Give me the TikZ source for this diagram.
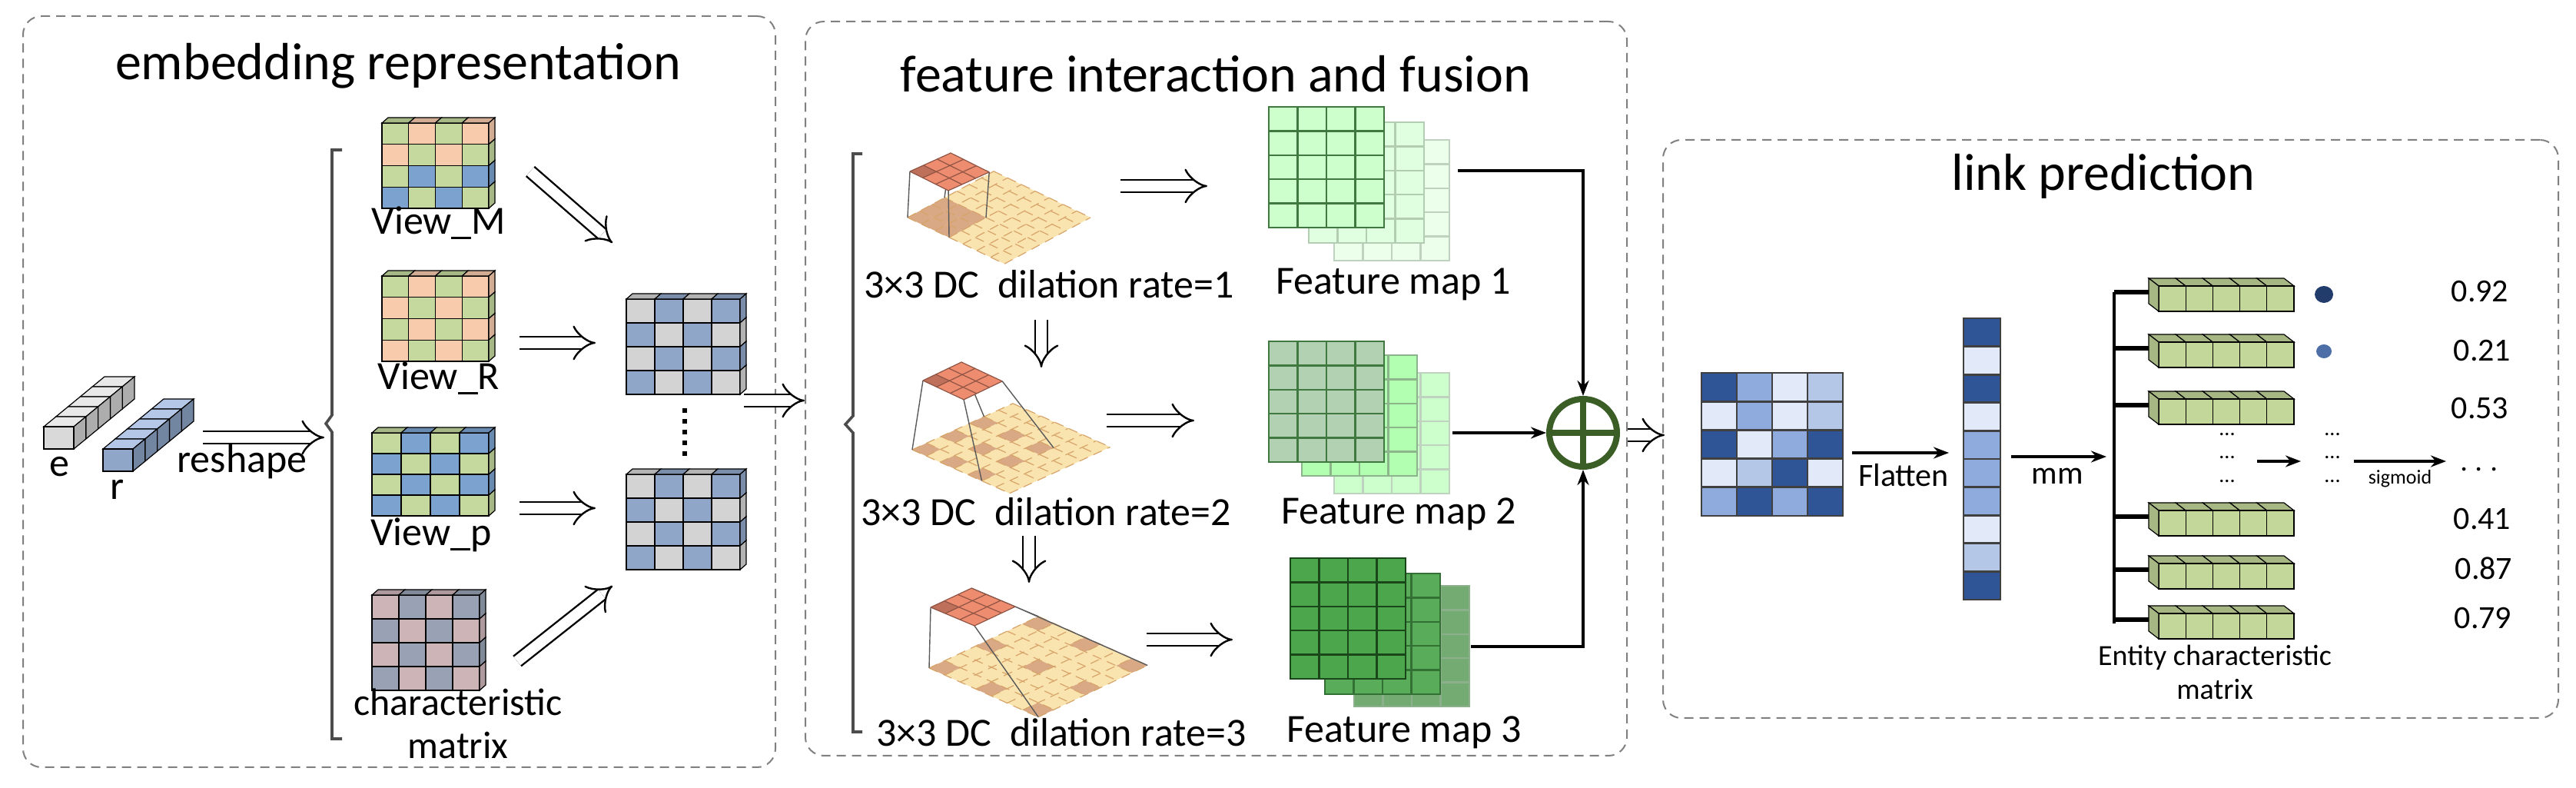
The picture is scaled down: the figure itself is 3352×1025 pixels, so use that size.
\documentclass[tikz,border=0pt]{standalone}
\usepackage{fontspec}
\setmainfont{Carlito}
\usetikzlibrary{calc,arrows.meta,positioning,shapes.geometric}
\definecolor{cG}{HTML}{C5D99F}
\definecolor{cO}{HTML}{F8CBAD}
\definecolor{cB}{HTML}{7CA3D0}
\definecolor{cY}{HTML}{D3D3D3}
\definecolor{cS}{HTML}{8FA6C9}
\definecolor{cP}{HTML}{CDB4B7}
\definecolor{cQ}{HTML}{98A2B4}
\definecolor{cD}{HTML}{2F5597}
\definecolor{cM}{HTML}{8FAADC}
\definecolor{cL}{HTML}{E2E9F8}
\definecolor{cK}{HTML}{B4C7E7}
\definecolor{cTan}{HTML}{F9E3AE}
\definecolor{cHit}{HTML}{D9A985}
\definecolor{cGrid}{HTML}{D7A46A}
\definecolor{cKer}{HTML}{EE8C70}
\definecolor{cSum}{HTML}{3B5E27}
\definecolor{cEnt}{HTML}{C4D79B}
\tikzset{
  frame/.style={draw=gray, dashed, dash pattern=on 3pt off 2pt, line width=0.5pt, rounded corners=6pt},
  title/.style={font=\fontsize{17}{19}\selectfont},
  lab/.style={font=\fontsize{13}{15}\selectfont, inner sep=0pt},
  small/.style={font=\fontsize{10.5}{12}\selectfont, inner sep=0pt},
  hollow/.style={double=white, double distance=3.4pt, line width=0.6pt, -{Implies}},
  flow/.style={line width=1.1pt, -{Stealth[length=5pt]}},
  cell/.style={draw=black, line width=0.3pt}
}
% 4x4 matrix with thin 3D top and right faces
\newcommand{\viewmat}[5]{%
  \begin{scope}[shift={(#1,#2)}]
  \foreach \row [count=\j from 0] in {#5}{
    \foreach \c [count=\i from 0] in \row{
      \filldraw[cell, fill=c\c] (\i*#3,\j*#4) rectangle ++(#3,#4);
      \ifnum\j=0 \filldraw[cell, fill=c\c!85!black] (\i*#3,0) -- ++(8,-7) -- ++(#3,0) -- ++(-8,7) -- cycle;\fi
      \ifnum\i=3 \filldraw[cell, fill=c\c!85!black] (4*#3,\j*#4) -- ++(8,-7) -- ++(0,#4) -- ++(-8,7) -- cycle;\fi
    }}
  \end{scope}}
% embedding vector seen in depth
\newcommand{\vecbar}[5]{%
  \foreach \k in {4,3,2,1,0}{
    \filldraw[cell, fill=#4] ({#1+\k*15.8},{#2-\k*13}) -- ++(15.8,-13) -- ++(39,0) -- ++(-15.8,13) -- cycle;
    \filldraw[cell, fill=#5] ({#1+39+\k*15.8},{#2-\k*13}) -- ++(15.8,-13) -- ++(0,29) -- ++(-15.8,13) -- cycle;}
  \filldraw[cell, fill=#3] (#1,#2) rectangle ++(39,29);}
% dilated convolution: base #1 (with #1u, #1v), kernel #1k (with #1a, #1b), dilation #2
\newcommand{\dcconv}[2]{%
  \fill[cTan] (#1) -- ($(#1)+7*(#1u)$) -- ($(#1)+7*(#1u)+7*(#1v)$) -- ($(#1)+7*(#1v)$) -- cycle;
  \foreach \i in {0,1,2}{\foreach \j in {0,1,2}{
    \pgfmathtruncatemacro\ci{\i*#2}\pgfmathtruncatemacro\cj{\j*#2}
    \pgfmathtruncatemacro\ck{\ci+1}\pgfmathtruncatemacro\cl{\cj+1}
    \fill[cHit] ($(#1)+\ci*(#1u)+\cj*(#1v)$) -- ($(#1)+\ck*(#1u)+\cj*(#1v)$) -- ($(#1)+\ck*(#1u)+\cl*(#1v)$) -- ($(#1)+\ci*(#1u)+\cl*(#1v)$) -- cycle;}}
  \foreach \k in {0,...,7}{
    \draw[cGrid, line width=0.3pt, densely dashed] ($(#1)+\k*(#1u)$) -- ($(#1)+\k*(#1u)+7*(#1v)$);
    \draw[cGrid, line width=0.3pt, densely dashed] ($(#1)+\k*(#1v)$) -- ($(#1)+\k*(#1v)+7*(#1u)$);}
  \pgfmathtruncatemacro\ce{2*#2+1}
  \draw[gray!70!black, line width=0.35pt] (#1k) -- (#1)
    ($(#1k)+3*(#1a)$) -- ($(#1)+\ce*(#1u)$)
    ($(#1k)+3*(#1b)$) -- ($(#1)+\ce*(#1v)$)
    ($(#1k)+3*(#1a)+3*(#1b)$) -- ($(#1)+\ce*(#1u)+\ce*(#1v)$);
  \fill[cKer] (#1k) -- ($(#1k)+3*(#1a)$) -- ($(#1k)+3*(#1a)+3*(#1b)$) -- ($(#1k)+3*(#1b)$) -- cycle;
  \fill[cKer!80!black] (#1k) -- ($(#1k)+(#1a)$) -- ($(#1k)+(#1a)+(#1b)$) -- ($(#1k)+(#1b)$) -- cycle;
  \foreach \k in {0,...,3}{
    \draw[cKer!60!black, line width=0.3pt] ($(#1k)+\k*(#1a)$) -- ($(#1k)+\k*(#1a)+3*(#1b)$);
    \draw[cKer!60!black, line width=0.3pt] ($(#1k)+\k*(#1b)$) -- ($(#1k)+\k*(#1b)+3*(#1a)$);}}
% one layer of a feature map (4 x 5 cells)
\newcommand{\fmap}[4]{%
  \filldraw[fill=#3, draw=#4, line width=0.6pt] (#1,#2) rectangle ++(150,157);
  \foreach \k in {1,2,3}{\draw[#4, line width=0.6pt] ({#1+\k*37.5},#2) -- ++(0,157);}
  \foreach \k in {1,...,4}{\draw[#4, line width=0.6pt] (#1,{#2+\k*31.4}) -- ++(150,0);}}
% entity vector of 5 cells
\newcommand{\entvec}[2]{%
  \foreach \k in {0,...,4}{
    \filldraw[cell, fill=cEnt!85!black] ({#1+\k*35.2},#2) -- ++(-13,-10) -- ++(35.2,0) -- ++(13,10) -- cycle;
    \filldraw[cell, fill=cEnt] ({#1+\k*35.2},#2) rectangle ++(35.2,33);}
  \filldraw[cell, fill=cEnt!85!black] (#1,#2) -- ++(-13,-10) -- ++(0,33) -- ++(13,10) -- cycle;}

\begin{document}
\begin{tikzpicture}[x=0.25pt,y=-0.25pt]
\useasboundingbox (0,0) rectangle (3352,1025);
% frames
\node[frame, minimum width=244.75pt, minimum height=244.25pt] (box1) at (519.5,509.5) {};
\node[frame, minimum width=267.25pt, minimum height=238.75pt] (box2) at (1582.5,505.5) {};
\node[frame, minimum width=291.25pt, minimum height=188pt] (box3) at (2746.5,558) {};
\node[title] (t1) at (518,86) {embedding representation};
\node[title] (t2) at (1582,96) {feature interaction and fusion};
\node[title] (t3) at (2737,229) {link prediction};

% embedding representation
\vecbar{57}{555}{black!15}{black!9}{black!32}
\vecbar{134}{584}{cS}{cK}{cS!80!black}
\node[lab] (e) at (77,607) {e};
\node[lab] (r) at (153,637) {r};
\coordinate (rs1) at (264,569);
\coordinate (rs2) at (422,569);
\draw[hollow] (rs1) -- (rs2);
\node[lab] (reshape) at (315,601) {reshape};
\draw[line width=0.9pt, black!70] (445,195) -- (432,195) -- (432,540) -- (424,551) -- (432,562) -- (432,961) -- (445,961);
\viewmat{497}{160}{34.75}{27.75}{{G,O,G,O},{O,G,O,G},{G,B,G,B},{B,G,B,G}}
\viewmat{497}{359}{34.75}{27.75}{{G,O,G,O},{O,G,O,G},{G,O,G,O},{O,G,O,G}}
\viewmat{484}{563}{38}{27}{{G,B,G,B},{B,G,B,G},{G,B,G,B},{B,G,B,G}}
\viewmat{484}{774}{35}{31}{{P,Q,P,Q},{Q,P,Q,P},{P,Q,P,Q},{Q,P,Q,P}}
\node[lab] (vm) at (571,290) {View\_M};
\node[lab] (vr) at (571,492) {View\_R};
\node[lab] (vp) at (561,696) {View\_p};
\node[lab, align=center, font=\fontsize{12.5}{14}\selectfont] (cm) at (596,941) {characteristic\\matrix};
\viewmat{815}{389}{37}{31}{{Y,S,Y,S},{S,Y,S,Y},{Y,S,Y,S},{S,Y,S,Y}}
\viewmat{815}{617}{37}{31}{{Y,S,Y,S},{S,Y,S,Y},{Y,S,Y,S},{S,Y,S,Y}}
\draw[line width=1.5pt, dotted] (891,531) -- (891,596);
\coordinate (m1) at (690,223);   \coordinate (m2) at (797,316);
\coordinate (r1) at (676,446);   \coordinate (r2) at (775,446);
\coordinate (p1) at (676,661);   \coordinate (p2) at (775,661);
\coordinate (c1) at (673,860);   \coordinate (c2) at (797,762);
\draw[hollow] (m1) -- (m2);
\draw[hollow] (r1) -- (r2);
\draw[hollow] (p1) -- (p2);
\draw[hollow] (c1) -- (c2);
\coordinate (o1) at (968,521);   \coordinate (o2) at (1047,521);
\draw[hollow] (o1) -- (o2);

% feature interaction and fusion
\draw[line width=0.9pt, black!70] (1122,200) -- (1110,200) -- (1110,541) -- (1100,552) -- (1110,563) -- (1110,952) -- (1122,952);
\coordinate (b1) at (1181,283); \coordinate (b1u) at (18,8.6);   \coordinate (b1v) at (16,-8.6);
\coordinate (b1k) at (1184,223); \coordinate (b1a) at (16.7,8.3); \coordinate (b1b) at (17.7,-8);
\coordinate (b2) at (1187,585); \coordinate (b2u) at (18.1,8.1); \coordinate (b2v) at (18.7,-8.6);
\coordinate (b2k) at (1201,495); \coordinate (b2a) at (17.7,8.3); \coordinate (b2b) at (16.7,-8);
\coordinate (b3) at (1209,869); \coordinate (b3u) at (20.3,9.1); \coordinate (b3v) at (20.3,-9.6);
\coordinate (b3k) at (1211,790); \coordinate (b3a) at (19,8);    \coordinate (b3b) at (17.7,-8.3);
\dcconv{b1}{1}
\dcconv{b2}{2}
\dcconv{b3}{3}
\node[lab] (dc1) at (1365,370) {3×3 DC\ \ dilation rate=1};
\node[lab] (dc2) at (1361,666) {3×3 DC\ \ dilation rate=2};
\node[lab] (dc3) at (1381,953) {3×3 DC\ \ dilation rate=3};
\coordinate (d1) at (1355,416);  \coordinate (d2) at (1355,478);
\coordinate (d3) at (1339,697);  \coordinate (d4) at (1339,758);
\draw[hollow] (d1) -- (d2);
\draw[hollow] (d3) -- (d4);
\coordinate (h1) at (1458,242);  \coordinate (h2) at (1571,242);
\coordinate (h3) at (1440,547);  \coordinate (h4) at (1554,547);
\coordinate (h5) at (1492,832);  \coordinate (h6) at (1604,832);
\draw[hollow] (h1) -- (h2);
\draw[hollow] (h3) -- (h4);
\draw[hollow] (h5) -- (h6);
\fmap{1736}{182}{green!8}{green!30!black!25}
\fmap{1703}{159}{green!12}{green!35!black!30}
\fmap{1651}{139}{green!20}{green!30!black!75}
\fmap{1736}{485}{green!20}{green!30!black!25}
\fmap{1694}{462}{green!30}{green!35!black!45}
\fmap{1651}{444}{green!40!black!30!white}{green!30!black!75}
\fmap{1762}{762}{green!40!black!55}{green!30!black!45}
\fmap{1724}{746}{green!50!black!65}{green!30!black!80}
\fmap{1679}{726}{green!50!black!70}{green!20!black!90}
\node[lab] (fm1) at (1813,370) {Feature map 1};
\node[lab] (fm2) at (1820,669) {Feature map 2};
\node[lab] (fm3) at (1827,953) {Feature map 3};
\node[circle, draw=cSum, line width=2pt, minimum size=22pt, inner sep=0pt] (sum) at (2060,563) {};
\draw[cSum, line width=2pt] (sum.north) -- (sum.south) (sum.west) -- (sum.east);
\coordinate (f1) at (1897,222);
\coordinate (f2) at (1890,563);
\coordinate (f3) at (1914,841);
\draw[flow] (f1) -| (sum.north);
\draw[flow] (f2) -- (sum.west);
\draw[flow] (f3) -| (sum.south);
\coordinate (s1) at (2118,566);  \coordinate (s2) at (2166,566);
\draw[hollow] (s1) -- (s2);

% link prediction
\begin{scope}[shift={(2214,485)}]
\foreach \row [count=\j from 0] in {{D,M,L,K},{L,M,L,K},{D,L,M,D},{L,K,D,L},{M,D,M,D}}{
  \foreach \c [count=\i from 0] in \row{
    \filldraw[fill=c\c, draw=black!75, line width=0.7pt] (\i*46,\j*37.2) rectangle ++(46,37.2);}}
\end{scope}
\foreach \c [count=\j from 0] in {D,L,D,L,M,M,M,L,K,D}{
  \filldraw[fill=c\c, draw=black!75, line width=0.7pt] (2555,{414+\j*36.6}) rectangle ++(48,36.6);}
\coordinate (fl1) at (2410,589); \coordinate (fl2) at (2536,589);
\draw[flow] (fl1) -- (fl2);
\node[small] (flat) at (2477,618) {Flatten};
\coordinate (mm1) at (2617,594); \coordinate (mm2) at (2741,594);
\draw[flow] (mm1) -- (mm2);
\node[small] (mm) at (2677,619) {mm};
\draw[line width=1.1pt] (2751,380) -- (2751,811);
\foreach \y in {372,445,519,664,733,798}{
  \entvec{2809}{\y}
  \draw[line width=1.3pt] (2751,\y+8) -- (2796,\y+8);}
\node[ellipse, fill=cD!70!black, minimum width=6pt, minimum height=5.5pt, inner sep=0pt] (dot1) at (3024,383) {};
\node[ellipse, fill=cD!85!white, minimum width=5pt, minimum height=4.5pt, inner sep=0pt] (dot2) at (3024,457) {};
\node[small] (n1) at (3227,379) {0.92};
\node[small] (n2) at (3230,456) {0.21};
\node[small] (n3) at (3227,531) {0.53};
\node[small] (n4) at (3230,675) {0.41};
\node[small] (n5) at (3232,739) {0.87};
\node[small] (n6) at (3231,804) {0.79};
\foreach \y in {569,599,630}{
  \node[font=\fontsize{7}{8}\selectfont, inner sep=0pt] at (2898,\y-4) {...};
  \node[font=\fontsize{7}{8}\selectfont, inner sep=0pt] at (3035,\y-4) {...};}
\coordinate (q1) at (2937,600); \coordinate (q2) at (2994,600);
\draw[flow] (q1) -- (q2);
\coordinate (q3) at (3063,600); \coordinate (q4) at (3183,600);
\draw[flow] (q3) -- (q4);
\node[font=\fontsize{6.5}{8}\selectfont, inner sep=0pt] (sig) at (3123,623) {sigmoid};
\node[small] (dts) at (3226,612) {$\cdots$};
\node[font=\fontsize{9.5}{11}\selectfont, align=center, inner sep=0pt] (ecm) at (2882,874) {Entity characteristic\\matrix};
\end{tikzpicture}
\end{document}
